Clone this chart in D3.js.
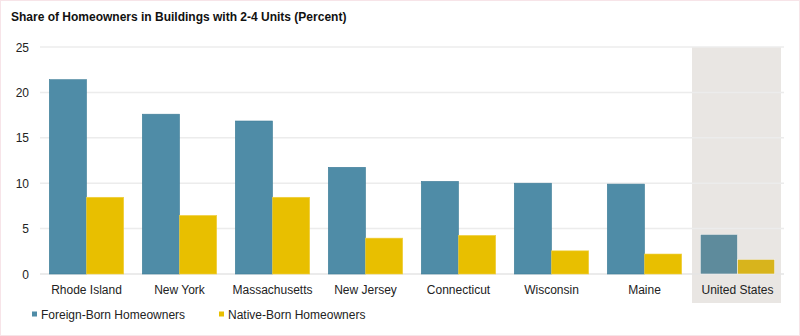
<!DOCTYPE html>
<html><head><meta charset="utf-8">
<script src="https://cdn.jsdelivr.net/npm/d3@7"></script>
<style>body{margin:0;background:#fff}svg{display:block}text{font-family:"Liberation Sans",Arial,sans-serif}</style>
</head><body><svg id="c" width="800" height="336"></svg>
<script>
const categories = ["Rhode Island","New York","Massachusetts","New Jersey","Connecticut","Wisconsin","Maine","United States"];
const foreignBorn = [21.4, 17.6, 16.85, 11.75, 10.2, 10.0, 9.9, 4.37];
const nativeBorn  = [8.45, 6.45, 8.45, 3.95, 4.25, 2.55, 2.2, 1.62];
const seriesNames = ["Foreign-Born Homeowners","Native-Born Homeowners"];
const yTicks = [0,5,10,15,20,25];
const highlight = "United States";

const svg = d3.select("#c");
const W=800,H=336;
svg.append("rect").attr("x",0.5).attr("y",0.5).attr("width",W-1).attr("height",H-1).attr("fill","#fff").attr("stroke","#f7e4e8");

const x = d3.scaleBand().domain(categories).range([40,784]).paddingInner(0.2).paddingOuter(0.1);
const xs = d3.scaleBand().domain([0,1]).range([0,x.bandwidth()]);
const y = d3.scaleLinear().domain([0,25]).range([274,47]);

// highlight box
svg.append("rect").attr("x",x(highlight)-x.step()*0.1+1).attr("y",y(25))
  .attr("width",x.bandwidth()+x.step()*0.2-4).attr("height",303-y(25)).attr("fill","#e9e6e3");

// grid
svg.append("g").selectAll("line").data(yTicks).join("line")
  .attr("x1",40).attr("x2",784).attr("y1",d=>y(d)).attr("y2",d=>y(d))
  .attr("stroke",d=>d===0?"#e4e4e4":"#ececec").attr("stroke-width",1.5);

// y labels
svg.append("g").selectAll("text").data(yTicks).join("text")
  .attr("x",29).attr("y",d=>y(d)+4.5).attr("text-anchor","end").attr("font-size",12).attr("fill","#222").text(d=>d);

const colors = ["#4f8ca7","#e8bf00"];
const hlColors = ["#5e8b9c","#d8b41c"];
const data = categories.map((c,i)=>({c,v:[foreignBorn[i],nativeBorn[i]]}));
const g = svg.append("g");
data.forEach(d=>{
  d.v.forEach((v,k)=>{
    g.append("rect").attr("x",x(d.c)+xs(k)).attr("y",y(v)).attr("width",xs.bandwidth()).attr("height",y(0)-y(v))
      .attr("fill",d.c===highlight?hlColors[k]:colors[k])
      .attr("stroke",d.c===highlight?"#f4f2f0":(k===0?"#3f7d98":"#f0cf40")).attr("stroke-width",0.6);
  });
});

// x labels
svg.append("g").selectAll("text").data(categories).join("text")
  .attr("x",d=>x(d)+x.bandwidth()/2).attr("y",294).attr("text-anchor","middle").attr("font-size",12).attr("fill","#222").text(d=>d);

// title
svg.append("text").attr("x",11).attr("y",21).attr("font-size",12).attr("font-weight","bold").attr("fill","#111")
  .text("Share of Homeowners in Buildings with 2-4 Units (Percent)");

// legend
const lx=[32,219];
seriesNames.forEach((s,i)=>{
  svg.append("rect").attr("x",lx[i]).attr("y",311.5).attr("width",5).attr("height",5).attr("fill",colors[i]);
  svg.append("text").attr("x",lx[i]+9).attr("y",319).attr("font-size",12).attr("fill","#222").text(s);
});
</script></body></html>
